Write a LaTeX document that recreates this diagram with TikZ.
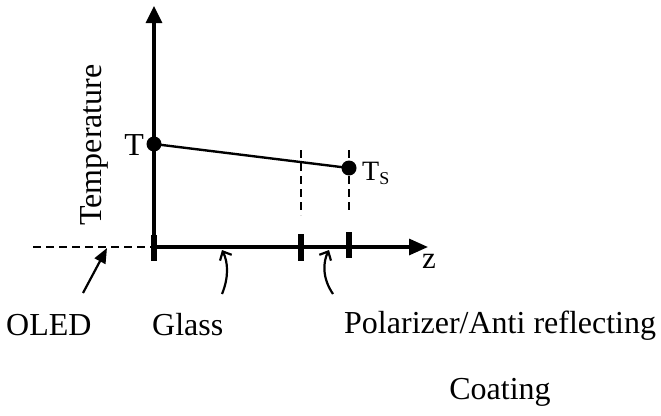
\documentclass[tikz,border=0pt]{standalone}
\usepackage{fontspec}
\setmainfont{Liberation Serif}
\usetikzlibrary{arrows.meta}
\begin{document}
\begin{tikzpicture}[x=1pt,y=-1pt,
  axis/.style={line width=3.2pt},
  tickbar/.style={line width=6pt},
  dashline/.style={line width=2.4pt,dash pattern=on 8pt off 5pt},
  pt/.style={circle,fill=black,inner sep=0pt,minimum size=15pt},
  lbl/.style={inner sep=0pt,font=\fontsize{32}{38}\selectfont},
  curvearrow/.style={line width=2.2pt,-{Straight Barb[length=7pt,width=13pt,line width=2.2pt]}}
]
\useasboundingbox (0,0) rectangle (661,415);
% axes
\coordinate (O) at (154,247);
\coordinate (Obot) at (154,260);
\coordinate (Ytip) at (154,6);
\coordinate (Xtip) at (428,247);
\coordinate (Xleft) at (33,247);
\draw[axis,-{Triangle[length=17pt,width=16pt]}] (Obot) -- (Ytip);
\draw[axis,-{Triangle[length=19pt,width=16pt]}] (O) -- (Xtip);
\draw[dashline] (Xleft) -- (O);
% tick bars
\coordinate (t1a) at (154,235); \coordinate (t1b) at (154,261);
\coordinate (t2a) at (301,234); \coordinate (t2b) at (301,261);
\coordinate (t3a) at (349,232); \coordinate (t3b) at (349,258);
\draw[tickbar] (t1a) -- (t1b);
\draw[tickbar] (t2a) -- (t2b);
\draw[tickbar] (t3a) -- (t3b);
% dashed verticals
\coordinate (d1a) at (301,150); \coordinate (d1b) at (301,215);
\coordinate (d2a) at (349,150); \coordinate (d2b) at (349,214);
\draw[dashline] (d1a) -- (d1b);
\draw[dashline] (d2a) -- (d2b);
% points and line
\node[pt] (T) at (154,144) {};
\node[pt] (Ts) at (349,168) {};
\draw[line width=2.4pt] (T.center) -- (Ts.center);
% labels
\node[lbl,anchor=base east] (Tl) at (144,155) {T};
\node[inner sep=0pt,anchor=base west,font=\fontsize{28}{32}\selectfont] (Tsl) at (362,180) {T\raisebox{-4pt}{\fontsize{18}{20}\selectfont S}};
\node[inner sep=0pt,anchor=base west,font=\fontsize{31}{34}\selectfont] (z) at (422,268) {z};
\node[lbl,anchor=base,rotate=90] (temp) at (101,145) {Temperature};
\node[lbl,anchor=base west] (oled) at (6,335) {OLED};
\node[lbl,anchor=base west] (glass) at (152,335) {Glass};
\node[lbl,anchor=base west] (pol) at (344,333) {Polarizer/Anti reflecting};
\node[lbl,anchor=base] (coat) at (500,399) {Coating};
% pointer arrows
\coordinate (oa) at (83,293); \coordinate (ob) at (107,248);
\draw[line width=2.2pt,-{Triangle[length=15pt,width=12pt]}] (oa) -- (ob);
\coordinate (ga) at (222,294); \coordinate (gb) at (222,250);
\draw[curvearrow] (ga) .. controls (229,277) and (228,262) .. (gb);
\coordinate (pa) at (333,294); \coordinate (pb) at (329,250);
\draw[curvearrow] (pa) .. controls (322,278) and (323,262) .. (pb);
\end{tikzpicture}
\end{document}
